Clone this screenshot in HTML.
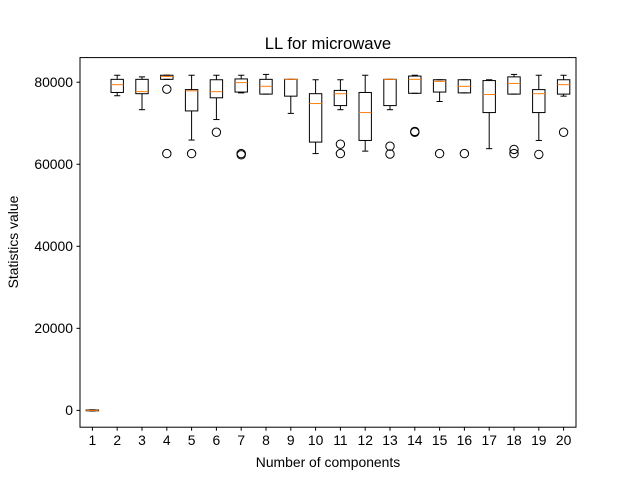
<!DOCTYPE html>
<html><head><meta charset="utf-8"><style>
html,body{margin:0;padding:0;background:#fff;}
svg{display:block;font-family:"Liberation Sans","DejaVu Sans",sans-serif;}
</style></head><body>
<svg id="chart" width="640" height="480" viewBox="0 0 640 480" xmlns="http://www.w3.org/2000/svg">
<rect width="640" height="480" fill="#fff"/>
<text x="328" y="49" font-size="16.7" text-anchor="middle">LL for microwave</text>
<text x="328" y="467" font-size="13.9" text-anchor="middle">Number of components</text>
<text transform="translate(18,242) rotate(-90)" font-size="13.9" text-anchor="middle">Statistics value</text>
<g id="marks"></g>
<rect x="80" y="57.6" width="496" height="369.6" fill="none" stroke="#000" stroke-width="1"/>
</svg>
<script>
const categories = [1,2,3,4,5,6,7,8,9,10,11,12,13,14,15,16,17,18,19,20];
const whiskerLow  = [-150,76700,73300,80700,65900,70900,77400,77100,72400,62600,73300,63200,73300,77300,75300,77400,63800,77100,65800,76600];
const q1          = [-100,77500,77200,80700,73000,76200,77600,77100,76600,65400,74300,65800,74300,77300,77600,77400,72600,77100,72600,77100];
const medians     = [0,79400,77700,81400,77900,77700,79900,79000,80700,74800,77200,72600,80700,80700,80200,79000,77000,79700,77200,79400];
const q3          = [100,80700,80700,81700,78200,80600,80800,80700,80700,77200,78000,77500,80700,81500,80600,80600,80400,81300,78200,80600];
const whiskerHigh = [150,81700,81300,81700,81700,81700,81700,81900,80700,80600,80600,81700,80700,81700,80600,80600,80600,81900,81700,81700];
const outliers    = [[],[],[],[78300,62600],[62600],[67800],[62600,62300],[],[],[],[64900,62600],[],[64400,62500],[67800,68000],[62600],[62600],[],[63600,62600],[62400],[67800]];
const yTicks = [0,20000,40000,60000,80000];
const yTickLabels = ["0","20000","40000","60000","80000"];

const X0=80,X1=576,Y0=57.6,Y1=427.2;
const yMin=-4100, yMax=86000;
const xs = v => X0 + (v-0.5)*(X1-X0)/20;
const ys = v => Y1 - (v-yMin)*(Y1-Y0)/(yMax-yMin);
const NS="http://www.w3.org/2000/svg";
const g=document.getElementById('marks');
function mk(tag,attrs,parent){const e=document.createElementNS(NS,tag);for(const k in attrs)e.setAttribute(k,attrs[k]);(parent||g).appendChild(e);return e;}

yTicks.forEach((t,i)=>{
  const y=ys(t);
  const tk=mk('line',{x1:X0-3.5,x2:X0,y1:y,y2:y,stroke:'#000'});
  
  
  const lb=mk('text',{x:X0-7,y:y+4.8,'font-size':13.9,'text-anchor':'end'});
  lb.textContent=yTickLabels[i];
  
  
});
categories.forEach((c,i)=>{
  const x=xs(c);
  const tk=mk('line',{x1:x,x2:x,y1:Y1,y2:Y1+3.5,stroke:'#000'});
  
  
  const lb=mk('text',{x:x,y:Y1+18,'font-size':13.9,'text-anchor':'middle'});
  lb.textContent=String(c);
  
  
  const bg=mk('g',{});
  
  
  const hw=6.2, cw=3.1;
  mk('line',{x1:x,x2:x,y1:ys(whiskerLow[i]),y2:ys(q1[i]),stroke:'#000'},bg);
  mk('line',{x1:x,x2:x,y1:ys(q3[i]),y2:ys(whiskerHigh[i]),stroke:'#000'},bg);
  mk('line',{x1:x-cw,x2:x+cw,y1:ys(whiskerLow[i]),y2:ys(whiskerLow[i]),stroke:'#000'},bg);
  mk('line',{x1:x-cw,x2:x+cw,y1:ys(whiskerHigh[i]),y2:ys(whiskerHigh[i]),stroke:'#000'},bg);
  mk('rect',{x:x-hw,y:ys(q3[i]),width:2*hw,height:Math.max(0.5,ys(q1[i])-ys(q3[i])),fill:'none',stroke:'#000'},bg);
  mk('line',{x1:x-hw,x2:x+hw,y1:ys(medians[i]),y2:ys(medians[i]),stroke:'#ff7f0e'},bg);
  outliers[i].forEach(o=>{
    const ci=mk('circle',{cx:x,cy:ys(o),r:4.2,fill:'none',stroke:'#000'},bg);
    
    
  });
});
</script>
</body></html>
